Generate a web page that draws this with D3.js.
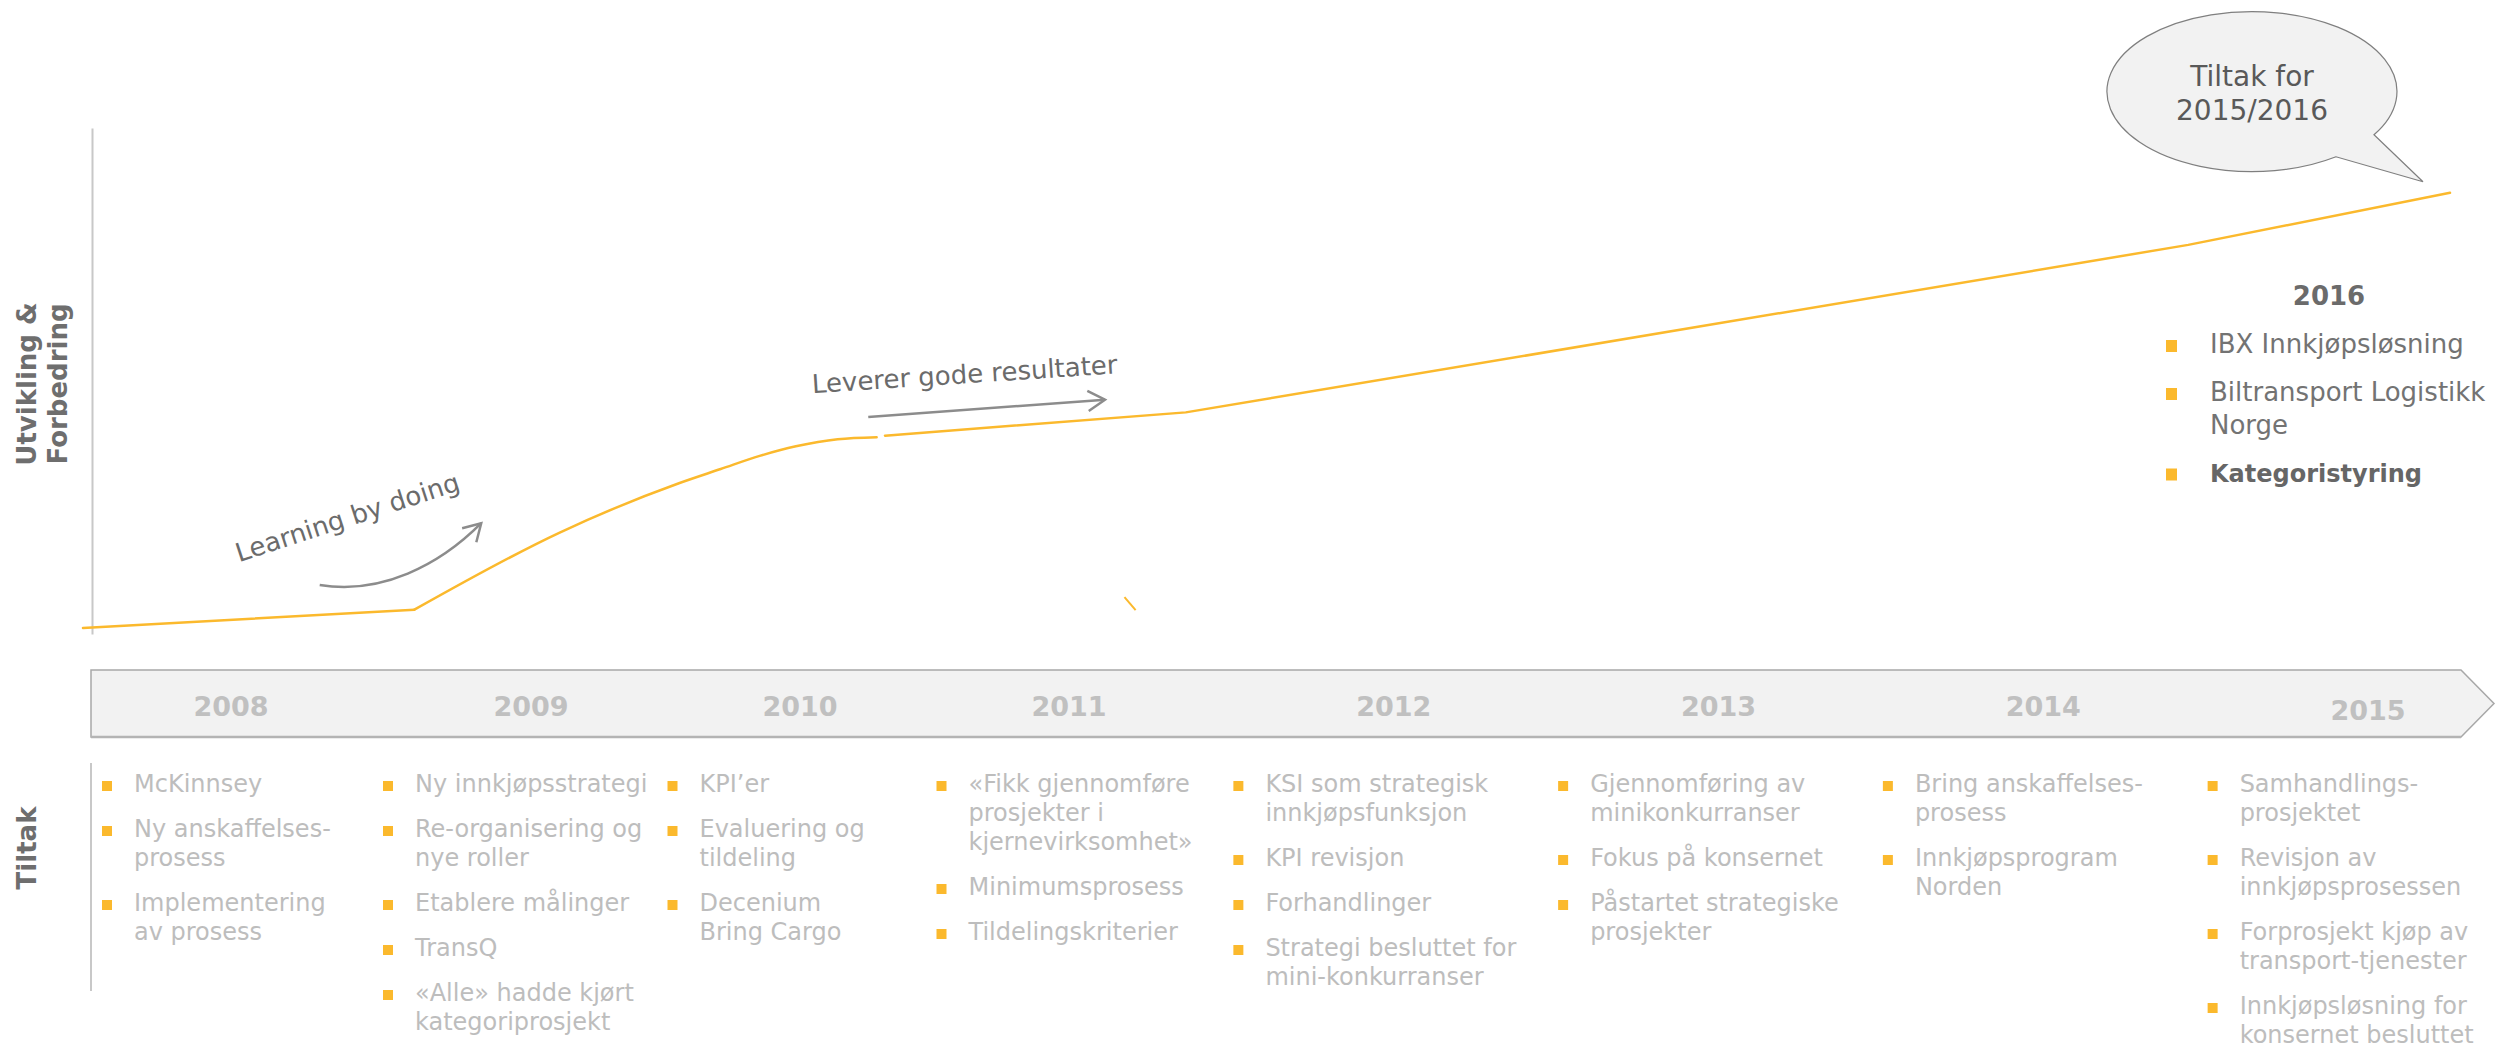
<!DOCTYPE html>
<html>
<head>
<meta charset="utf-8">
<script src="https://cdn.jsdelivr.net/npm/d3@7"></script>
<style>
  body { margin: 0; background: #fff; }
  svg { display: block; font-family: "DejaVu Sans", Verdana, sans-serif; }
</style>
</head>
<body>
<script>
// Utvikling-kurven (år, indeks 0-100)
const lineYears = [2007.5, 2008.69, 2009.21, 2009.64, 2009.79, 2009.93, 2010.06, 2010.21, 2010.35, 2010.38, 2011.46, 2015.06, 2016.0];
const lineIndex = [1.2, 4.8, 20.0, 29.8, 32.6, 35.2, 37.1, 38.5, 38.9, 39.2, 43.8, 76.9, 87.2];

// liten løs strek under kurven
const strayYears = [2011.24, 2011.28];
const strayIndex = [7.3, 4.7];

// Tidslinje
const years = ['2008', '2009', '2010', '2011', '2012', '2013', '2014', '2015'];

const tiltak2008 = ['McKinnsey', 'Ny anskaffelses-\nprosess', 'Implementering\nav prosess'];
const tiltak2009 = ['Ny innkjøpsstrategi', 'Re-organisering og\nnye roller', 'Etablere målinger', 'TransQ', '«Alle» hadde kjørt\nkategoriprosjekt'];
const tiltak2010 = ['KPI’er', 'Evaluering og\ntildeling', 'Decenium\nBring Cargo'];
const tiltak2011 = ['«Fikk gjennomføre\nprosjekter i\nkjernevirksomhet»', 'Minimumsprosess', 'Tildelingskriterier'];
const tiltak2012 = ['KSI som strategisk\ninnkjøpsfunksjon', 'KPI revisjon', 'Forhandlinger', 'Strategi  besluttet for\nmini-konkurranser'];
const tiltak2013 = ['Gjennomføring av\nminikonkurranser', 'Fokus på konsernet', 'Påstartet strategiske\nprosjekter'];
const tiltak2014 = ['Bring anskaffelses-\nprosess', 'Innkjøpsprogram\nNorden'];
const tiltak2015 = ['Samhandlings-\nprosjektet', 'Revisjon av\ninnkjøpsprosessen', 'Forprosjekt kjøp av\ntransport-tjenester', 'Innkjøpsløsning for\nkonsernet besluttet'];
const tiltakByYear = [tiltak2008, tiltak2009, tiltak2010, tiltak2011, tiltak2012, tiltak2013, tiltak2014, tiltak2015];

const title2016 = '2016';
const tiltak2016 = ['IBX Innkjøpsløsning', 'Biltransport Logistikk\nNorge', 'Kategoristyring'];

const bubbleText = ['Tiltak for', '2015/2016'];

const yellow = '#fbb92d';
const arrowGrey = '#8c8c8c';

const svg = d3.select('body')
    .append('svg')
    .attr('width', 2501)
    .attr('height', 1048);

// Skalaer
const x = d3.scaleLinear().domain([2007.5, 2016]).range([83, 2450]);
const y = d3.scaleLinear().domain([0, 100]).range([634, 128]);

const defs = svg.append('defs');
defs.append('marker')
    .attr('id', 'chev')
    .attr('markerUnits', 'userSpaceOnUse')
    .attr('viewBox', '-20 -12 22 24')
    .attr('markerWidth', 22)
    .attr('markerHeight', 24)
    .attr('refX', 0)
    .attr('refY', 0)
    .attr('orient', 'auto')
    .style('overflow', 'visible')
    .append('path')
    .attr('d', 'M-17,-10L0,0L-17,10')
    .attr('fill', 'none')
    .attr('stroke', arrowGrey)
    .attr('stroke-width', 2.5);

// Y-akse (bare linjen)
svg.append('g')
    .attr('transform', 'translate(92,0)')
    .call(d3.axisLeft(y).tickValues([]).tickSizeOuter(0))
    .call(g => g.select('.domain').attr('stroke', '#c8c8c8').attr('stroke-width', 2));

// Aksetittel
const yTitle = svg.append('text')
    .attr('transform', 'translate(36,384) rotate(-90)')
    .attr('text-anchor', 'middle')
    .attr('font-size', 26)
    .attr('font-weight', 'bold')
    .attr('fill', '#6e6e6e');
yTitle.append('tspan').attr('x', 0).attr('dy', 0).text('Utvikling &');
yTitle.append('tspan').attr('x', 0).attr('dy', 31).text('Forbedring');

// Kurven: rett start, myk overgang, rette strekk
const pts = lineYears.map((d, i) => [d, lineIndex[i]]);
const lineSegs = [
    { data: pts.slice(0, 2), curve: d3.curveLinear },
    { data: pts.slice(1, 9), curve: d3.curveMonotoneX },
    { data: pts.slice(9), curve: d3.curveLinear }
];
svg.selectAll('.kurve')
    .data(lineSegs)
    .enter()
    .append('path')
    .attr('class', 'kurve')
    .attr('fill', 'none')
    .attr('stroke', yellow)
    .attr('stroke-width', 2.5)
    .attr('stroke-linejoin', 'round')
    .attr('stroke-linecap', 'round')
    .attr('d', s => d3.line().curve(s.curve).x(d => x(d[0])).y(d => y(d[1]))(s.data));

svg.append('path')
    .datum(strayYears.map((d, i) => [d, strayIndex[i]]))
    .attr('fill', 'none')
    .attr('stroke', yellow)
    .attr('stroke-width', 2)
    .attr('d', d3.line().x(d => x(d[0])).y(d => y(d[1])));

// "Learning by doing"
svg.append('text')
    .attr('transform', `translate(${x(2008.06)},${y(14.2)}) rotate(-18)`)
    .attr('font-size', 26)
    .attr('fill', '#6b6b6b')
    .text('Learning by doing');

const lp = d3.path();
lp.moveTo(x(2008.35), y(9.7));
lp.bezierCurveTo(x(2008.57), y(7.7), x(2008.78), y(13.6), x(2008.93), y(21.9));
svg.append('path')
    .attr('d', lp.toString())
    .attr('fill', 'none')
    .attr('stroke', arrowGrey)
    .attr('stroke-width', 2.5)
    .attr('marker-end', 'url(#chev)');

// "Leverer gode resultater"
svg.append('text')
    .attr('transform', `translate(${x(2010.12)},${y(47.6)}) rotate(-3.7)`)
    .attr('font-size', 26)
    .attr('fill', '#6b6b6b')
    .text('Leverer gode resultater');

svg.append('line')
    .attr('x1', x(2010.32)).attr('y1', y(42.9))
    .attr('x2', x(2011.17)).attr('y2', y(46.3))
    .attr('stroke', arrowGrey)
    .attr('stroke-width', 2.5)
    .attr('marker-end', 'url(#chev)');

// Snakkeboble ved kurvens ende
const endX = x(lineYears[lineYears.length - 1]);
const endY = y(lineIndex[lineIndex.length - 1]);
const cx = endX - 198, cy = endY - 101;
svg.append('path')
    .attr('d', `M${endX - 114},${endY - 36} A145,80 0 1 1 ${endX - 76},${endY - 58} L${endX - 27},${endY - 11} Z`)
    .attr('fill', '#f2f2f2')
    .attr('stroke', '#7f7f7f')
    .attr('stroke-width', 1.2);
svg.append('g')
    .selectAll('text')
    .data(bubbleText)
    .enter()
    .append('text')
    .attr('x', cx)
    .attr('y', (d, i) => cy - 6 + i * 34)
    .attr('text-anchor', 'middle')
    .attr('font-size', 28)
    .attr('fill', '#595959')
    .text(d => d);

// Liste med kuler
function drawList(g, items, x0, base0, lineH, gap, fontSize, color, bulletOff, bw, bh) {
    let base = base0;
    items.forEach(item => {
        const lines = item.split('\n');
        g.append('rect')
            .attr('x', x0 - bulletOff)
            .attr('y', base - bh - 1)
            .attr('width', bw)
            .attr('height', bh)
            .attr('fill', yellow);
        const t = g.append('text')
            .attr('x', x0)
            .attr('y', base)
            .attr('font-size', fontSize)
            .attr('fill', color)
            .attr('font-weight', item === 'Kategoristyring' ? 'bold' : null);
        lines.forEach((l, j) => {
            t.append('tspan').attr('x', x0).attr('dy', j === 0 ? 0 : lineH).text(l);
        });
        base += lines.length * lineH + gap;
    });
}

// 2016-blokk
svg.append('text')
    .attr('x', 2329)
    .attr('y', 305)
    .attr('text-anchor', 'middle')
    .attr('font-size', 26)
    .attr('font-weight', 'bold')
    .attr('fill', '#6b6b6b')
    .text(title2016);
const g2016 = svg.append('g').attr('class', 'tiltak-2016');
drawList(g2016, tiltak2016, 2210, 353, 32.5, 15.5, 26, '#737373', 44, 11, 12);
g2016.selectAll('text').filter(function () { return d3.select(this).attr('font-weight') === 'bold'; })
    .attr('font-size', 24).attr('fill', '#666');

// Tidslinje-pil
const band = svg.append('g').attr('class', 'band');
band.append('path')
    .attr('d', 'M91,670L2461,670L2494,703.5L2461,737L91,737Z')
    .attr('fill', '#f2f2f2')
    .attr('stroke', '#a8a8a8')
    .attr('stroke-width', 1.5);
band.append('line')
    .attr('x1', 91).attr('x2', 2461).attr('y1', 737).attr('y2', 737)
    .attr('stroke', '#b4b4b4')
    .attr('stroke-width', 2.5);

// årsposisjoner langs tidslinjen
const col = d3.scaleLinear().domain([2008, 2009, 2011, 2015]).range([231, 531, 1069, 2368]);

band.selectAll('.year')
    .data(years)
    .enter()
    .append('text')
    .attr('class', 'year')
    .attr('x', d => col(+d))
    .attr('y', d => d === '2015' ? 720 : 716)
    .attr('text-anchor', 'middle')
    .attr('font-size', 27)
    .attr('font-weight', 'bold')
    .attr('fill', '#c0c0c0')
    .text(d => d);

// Tiltak
svg.append('text')
    .attr('transform', 'translate(36,848) rotate(-90)')
    .attr('text-anchor', 'middle')
    .attr('font-size', 26)
    .attr('font-weight', 'bold')
    .attr('fill', '#6e6e6e')
    .text('Tiltak');

svg.append('line')
    .attr('x1', 91).attr('x2', 91).attr('y1', 763).attr('y2', 991)
    .attr('stroke', '#c8c8c8')
    .attr('stroke-width', 2);

// kolonnene starter midt mellom to årstall
years.forEach((yr, i) => {
    const g = svg.append('g').attr('class', 'tiltak-' + yr);
    const left = i === 0 ? 134 : (col(+yr) + col(+yr - 1)) / 2 + 34;
    drawList(g, tiltakByYear[i], left, 792, 29, 16, 24, '#bdbdbd', 32, 10, 10);
});
</script>
</body>
</html>
